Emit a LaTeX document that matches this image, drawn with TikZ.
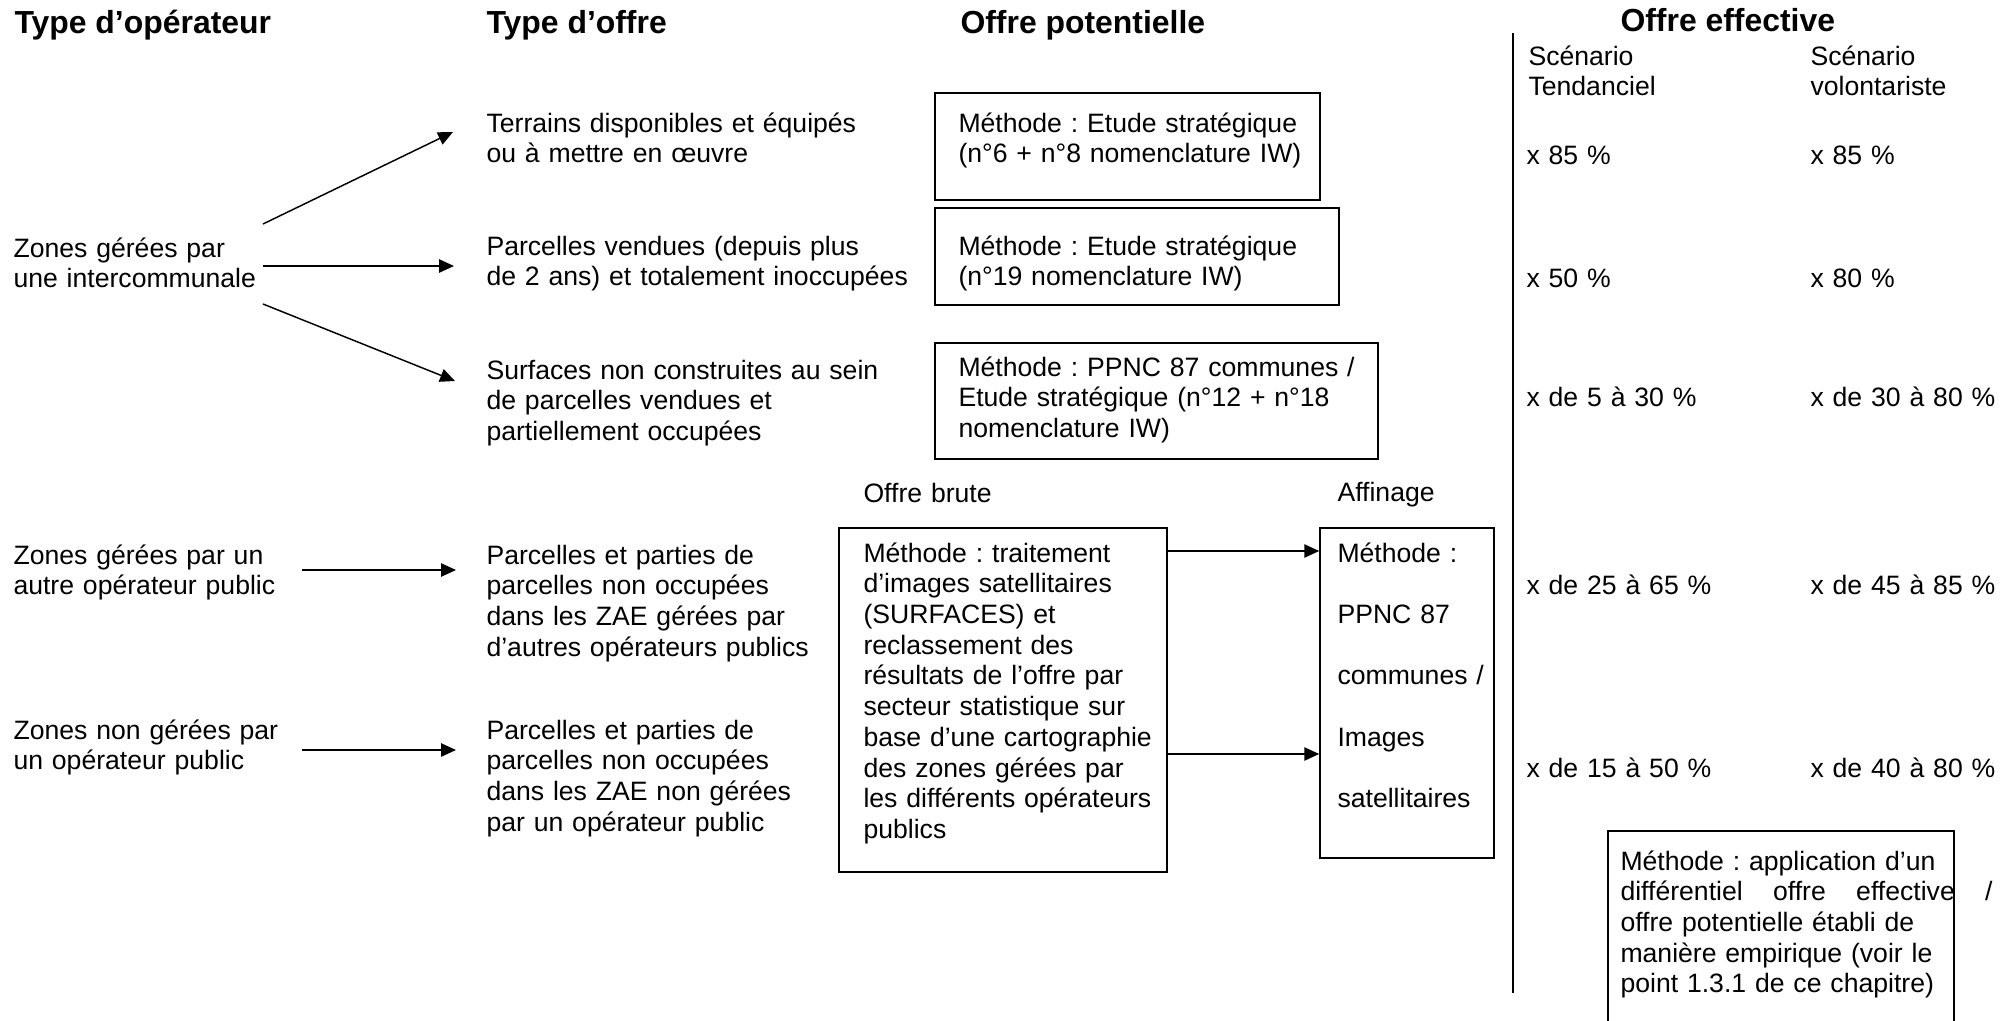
\documentclass[tikz,border=0pt]{standalone}
\usepackage{fontspec}
\setmainfont{Liberation Sans}
\usetikzlibrary{arrows.meta,fit}
\frenchspacing
\begin{document}
\begin{tikzpicture}[x=0.376pt,y=-0.376pt,
  txt/.style={anchor=base west, inner sep=0pt, text width=300pt, align=left, font=\fontsize{10}{11.55}\selectfont},
  hdr/.style={anchor=base west, inner sep=0pt, font=\fontsize{12}{14}\selectfont\bfseries},
  frame/.style={draw, line width=0.6pt, inner sep=0pt},
  arr/.style={line width=0.55pt, -{Triangle[length=5.6pt,width=5pt]}}]
\useasboundingbox (0,0) rectangle (2011,1021);

% headers
\node[hdr] (h1) at (14,33) {Type d’opérateur};
\node[hdr] (h2) at (486,33) {Type d’offre};
\node[hdr] (h3) at (960,33) {Offre potentielle};
\node[hdr] (h4) at (1620,31) {Offre effective};
\node[txt] (sc1) at (1528,65) {Scénario\\Tendanciel};
\node[txt] (sc2) at (1810,65) {Scénario\\volontariste};

% separator
\coordinate (vtop) at (1513,33);
\coordinate (vbot) at (1513,993);
\draw[line width=0.6pt] (vtop) -- (vbot);

% column 1
\node[txt] (o1) at (13,257) {Zones gérées par\\une intercommunale};
\node[txt] (o2) at (13,564) {Zones gérées par un\\autre opérateur public};
\node[txt] (o3) at (13,739) {Zones non gérées par\\un opérateur public};

% column 2
\node[txt] (t1) at (486,132) {Terrains disponibles et équipés\\ou à mettre en œuvre};
\node[txt] (t2) at (486,255) {Parcelles vendues (depuis plus\\de 2 ans) et totalement inoccupées};
\node[txt] (t3) at (486,379) {Surfaces non construites au sein\\de parcelles vendues et\\partiellement occupées};
\node[txt] (t4) at (486,564) {Parcelles et parties de\\parcelles non occupées\\dans les ZAE gérées par\\d’autres opérateurs publics};
\node[txt] (t5) at (486,739) {Parcelles et parties de\\parcelles non occupées\\dans les ZAE non gérées\\par un opérateur public};

% arrows col1 -> col2
\coordinate (a1s) at (263,224); \coordinate (a1e) at (453,132);
\coordinate (a2s) at (263,266); \coordinate (a2e) at (454,266);
\coordinate (a3s) at (263,304); \coordinate (a3e) at (455,381);
\coordinate (a4s) at (302,570); \coordinate (a4e) at (456,570);
\coordinate (a5s) at (302,750); \coordinate (a5e) at (456,750);
\draw[arr] (a1s) -- (a1e);
\draw[arr] (a2s) -- (a2e);
\draw[arr] (a3s) -- (a3e);
\draw[arr] (a4s) -- (a4e);
\draw[arr] (a5s) -- (a5e);

% method boxes
\node[frame, fit={(935,93) (1320,200)}] (b1) {};
\node[frame, fit={(935,208) (1339,305)}] (b2) {};
\node[frame, fit={(935,343) (1378,459)}] (b3) {};
\node[txt] (m1) at (958,132) {Méthode : Etude stratégique\\(n°6 + n°8 nomenclature IW)};
\node[txt] (m2) at (958,255) {Méthode : Etude stratégique\\(n°19 nomenclature IW)};
\node[txt] (m3) at (958,376) {Méthode : PPNC 87 communes /\\Etude stratégique (n°12 + n°18\\nomenclature IW)};

% offre brute / affinage
\node[txt] (lb) at (863,502) {Offre brute};
\node[txt] (la) at (1337,501) {Affinage};
\node[frame, fit={(839,528) (1167,872)}] (brute) {};
\node[frame, fit={(1320,528) (1494,858)}] (aff) {};
\node[txt] (mb) at (863,562) {Méthode : traitement\\d’images satellitaires\\(SURFACES) et\\reclassement des\\résultats de l’offre par\\secteur statistique sur\\base d’une cartographie\\des zones gérées par\\les différents opérateurs\\publics};
\node[txt, font=\fontsize{10}{23.1}\selectfont] (ma) at (1337,562) {Méthode :\\PPNC 87\\communes /\\Images\\satellitaires};
\draw[arr] (brute.east |- 0,551) -- (aff.west |- 0,551);
\draw[arr] (brute.east |- 0,754) -- (aff.west |- 0,754);

% percentages
\node[txt] (p1a) at (1526,164) {x 85 \%};
\node[txt] (p1b) at (1810,164) {x 85 \%};
\node[txt] (p2a) at (1526,287) {x 50 \%};
\node[txt] (p2b) at (1810,287) {x 80 \%};
\node[txt] (p3a) at (1526,406) {x de 5 à 30 \%};
\node[txt] (p3b) at (1810,406) {x de 30 à 80 \%};
\node[txt] (p4a) at (1526,594) {x de 25 à 65 \%};
\node[txt] (p4b) at (1810,594) {x de 45 à 85 \%};
\node[txt] (p5a) at (1526,777) {x de 15 à 50 \%};
\node[txt] (p5b) at (1810,777) {x de 40 à 80 \%};

% final box
\node[frame, fit={(1608,831) (1954,1060)}] (fin) {};
\node[txt] (mf) at (1620,870) {Méthode : application d’un\\\makebox[139.9pt][l]{différentiel\hfill offre\hfill effective\hfill /}\\offre potentielle établi de\\manière empirique (voir le\\point 1.3.1 de ce chapitre)};
\end{tikzpicture}
\end{document}
